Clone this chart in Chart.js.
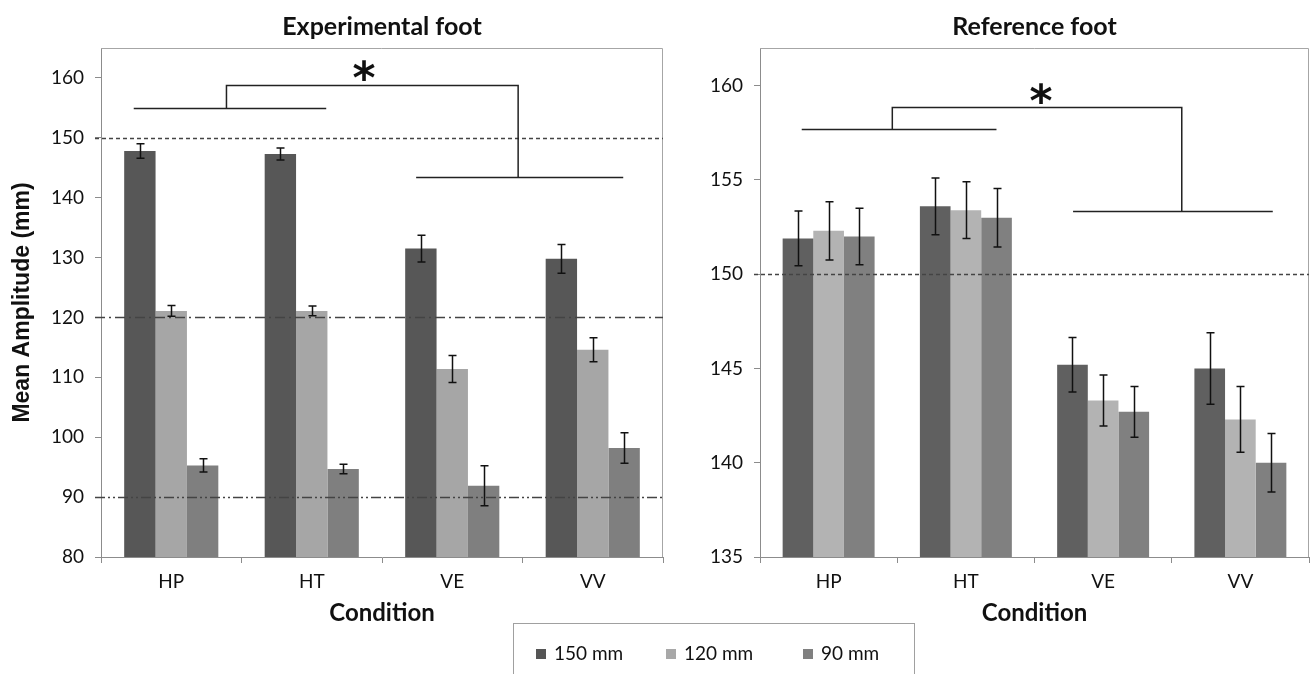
<!DOCTYPE html>
<html><head><meta charset="utf-8">
<script src="https://cdn.jsdelivr.net/npm/chart.js@4.4.1/dist/chart.umd.min.js"></script>
<style>
html,body{margin:0;padding:0;background:#fff;}
#wrap{position:relative;width:1310px;height:674px;overflow:hidden;background:#fff;}
canvas{position:absolute;top:0;}
#legend{position:absolute;left:513px;top:623px;width:402px;height:80px;border:1px solid #a0a0a0;box-sizing:border-box;font-family:Lato, sans-serif;font-size:19px;color:#111;}
.item{position:absolute;top:18px;height:22px;line-height:22px;white-space:nowrap;}
.sw{display:inline-block;width:10px;height:10px;margin-right:8px;vertical-align:middle;position:relative;top:-1px;}
</style></head>
<body><div id="wrap">
<canvas id="expChart" width="665" height="674" style="left:0"></canvas>
<canvas id="refChart" width="645" height="674" style="left:665px"></canvas>
<div id="legend"></div>
</div>
<script>
// ---- data ----
const categories = ['HP', 'HT', 'VE', 'VV'];
const seriesLabels = ['150 mm', '120 mm', '90 mm'];

const expMean150 = [147.8, 147.3, 131.5, 129.8];
const expMean120 = [121.1, 121.1, 111.4, 114.6];
const expMean90  = [95.3, 94.7, 91.9, 98.2];
const expErr150  = [1.2, 1.0, 2.25, 2.4];
const expErr120  = [0.9, 0.8, 2.25, 2.0];
const expErr90   = [1.1, 0.8, 3.35, 2.55];

const refMean150 = [151.9, 153.6, 145.2, 145.0];
const refMean120 = [152.3, 153.4, 143.3, 142.3];
const refMean90  = [152.0, 153.0, 142.7, 140.0];
const refErr150  = [1.45, 1.5, 1.45, 1.9];
const refErr120  = [1.55, 1.5, 1.35, 1.75];
const refErr90   = [1.5, 1.55, 1.35, 1.55];

const expYTicks = [80, 90, 100, 110, 120, 130, 140, 150, 160];
const refYTicks = [135, 140, 145, 150, 155, 160];
const expGuideValues = [150, 120, 90];
const refGuideValues = [150];

// ---- styles ----
const expColors = ['#575757', '#a6a6a6', '#7f7f7f'];
const refColors = ['#606060', '#b3b3b3', '#808080'];
const legendColors = ['#555555', '#a8a8a8', '#808080'];
const guideDashes = [[4, 3], [10, 4, 2, 4], [10, 3, 2, 3, 2, 3]];

const annotPlugin = {
  id: 'annot',
  afterDatasetsDraw(chart, args, opts) {
    const ctx = chart.ctx, xs = chart.scales.x, ys = chart.scales.y, ca = chart.chartArea;
    ctx.save();
    // plot frame (top / right)
    ctx.strokeStyle = '#a6a6a6'; ctx.lineWidth = 1;
    ctx.beginPath();
    ctx.moveTo(ca.left, Math.round(ca.top) + 0.5);
    ctx.lineTo(Math.round(ca.right) - 0.5, Math.round(ca.top) + 0.5);
    ctx.lineTo(Math.round(ca.right) - 0.5, ca.bottom);
    ctx.stroke();
    // guide lines
    opts.guides.forEach((g, k) => {
      const py = Math.round(ys.getPixelForValue(g)) + 0.5;
      ctx.setLineDash(opts.dashes[k]);
      ctx.strokeStyle = '#444'; ctx.lineWidth = 1.5;
      ctx.beginPath(); ctx.moveTo(ca.left - 6, py); ctx.lineTo(ca.right, py); ctx.stroke();
    });
    ctx.setLineDash([]);
    // error bars
    ctx.strokeStyle = '#111'; ctx.lineWidth = 1.5;
    chart.data.datasets.forEach((ds, i) => {
      const meta = chart.getDatasetMeta(i);
      meta.data.forEach((bar, j) => {
        const v = ds.data[j], e = ds.errors[j];
        const y1 = ys.getPixelForValue(v + e), y2 = ys.getPixelForValue(v - e);
        const x = Math.round(bar.x) + 0.5;
        ctx.beginPath();
        ctx.moveTo(x, y1); ctx.lineTo(x, y2);
        ctx.moveTo(x - 4, y1); ctx.lineTo(x + 4, y1);
        ctx.moveTo(x - 4, y2); ctx.lineTo(x + 4, y2);
        ctx.stroke();
      });
    });
    // significance bracket
    const b = opts.bracket;
    const px = i => xs.getPixelForValue(i);
    const py = v => Math.round(ys.getPixelForValue(v)) + 0.5;
    ctx.strokeStyle = '#222'; ctx.lineWidth = 1.5;
    ctx.beginPath();
    ctx.moveTo(px(b.leftSpan[0]), py(b.leftY)); ctx.lineTo(px(b.leftSpan[1]), py(b.leftY));
    ctx.moveTo(px(b.leftJoin), py(b.leftY)); ctx.lineTo(px(b.leftJoin), py(b.topY));
    ctx.lineTo(px(b.rightJoin), py(b.topY)); ctx.lineTo(px(b.rightJoin), py(b.rightY));
    ctx.moveTo(px(b.rightSpan[0]), py(b.rightY)); ctx.lineTo(px(b.rightSpan[1]), py(b.rightY));
    ctx.stroke();
    // star
    ctx.fillStyle = '#111';
    ctx.font = 'bold 44px "DejaVu Sans"';
    ctx.textAlign = 'center'; ctx.textBaseline = 'alphabetic';
    const m = ctx.measureText('*');
    const cy = ys.getPixelForValue(b.starY);
    ctx.fillText('*', px(b.starX), cy + (m.actualBoundingBoxAscent - m.actualBoundingBoxDescent) / 2);
    ctx.restore();
  }
};

function makeChart(id, titleText, means, errs, colors, yTicks, yMin, yMax, yWidth, padRight, showYTitle, guides, bracket) {
  return new Chart(document.getElementById(id), {
    type: 'bar',
    data: {
      labels: categories,
      datasets: seriesLabels.map((lab, i) => ({
        label: lab, data: means[i], errors: errs[i],
        backgroundColor: colors[i], borderWidth: 0,
        barPercentage: 1.0, categoryPercentage: 0.67
      }))
    },
    options: {
      responsive: false, animation: false, devicePixelRatio: 1,
      layout: { padding: { left: 0, right: padRight, top: 0, bottom: 0 } },
      plugins: {
        legend: { display: false }, tooltip: { enabled: false },
        title: { display: true, text: titleText, fullSize: false,
          font: { family: 'Lato', size: 25, weight: 'bold' }, color: '#111',
          padding: { top: 12, bottom: 6 } },
        annot: { guides: guides, dashes: guideDashes, bracket: bracket }
      },
      scales: {
        x: {
          afterFit: s => { s.height = 117; },
          grid: { drawOnChartArea: false, drawTicks: true, tickLength: 6, color: '#8c8c8c', offset: true },
          border: { color: '#8c8c8c', width: 1 },
          ticks: { font: { family: 'Lato', size: 19 }, color: '#111', padding: 7 },
          title: { display: true, text: 'Condition', font: { family: 'Lato', size: 24, weight: 'bold' },
            color: '#111', padding: { top: 0, bottom: 46.6 } }
        },
        y: {
          min: yMin, max: yMax,
          afterBuildTicks: s => { s.ticks = yTicks.map(v => ({ value: v })); },
          afterFit: s => { s.width = yWidth; },
          grid: { drawOnChartArea: false, drawTicks: true, tickLength: 6, color: '#8c8c8c' },
          border: { color: '#8c8c8c', width: 1 },
          ticks: { font: { family: 'Lato', size: 19 }, color: '#111', padding: 11 },
          title: { display: showYTitle, text: 'Mean Amplitude (mm)',
            font: { family: 'Liberation Sans', size: 23, weight: 'bold' }, color: '#111',
            padding: { top: 9, bottom: 0 } }
        }
      }
    },
    plugins: [annotPlugin]
  });
}

makeChart('expChart', 'Experimental foot',
  [expMean150, expMean120, expMean90], [expErr150, expErr120, expErr90],
  expColors, expYTicks, 80, 165, 101, 2, true, expGuideValues,
  { leftSpan: [-0.267, 1.103], leftY: 155, leftJoin: 0.393, topY: 158.84,
    rightJoin: 2.469, rightY: 143.47, rightSpan: [1.743, 3.217], starX: 1.372, starY: 161.3 });

makeChart('refChart', 'Reference foot',
  [refMean150, refMean120, refMean90], [refErr150, refErr120, refErr90],
  refColors, refYTicks, 135, 162, 95, 1, false, refGuideValues,
  { leftSpan: [-0.196, 1.223], leftY: 157.72, leftJoin: 0.464, topY: 158.87,
    rightJoin: 2.573, rightY: 153.37, rightSpan: [1.781, 3.236], starX: 1.548, starY: 159.57 });

// legend
const lg = document.getElementById('legend');
const itemLefts = [22, 152, 289];
seriesLabels.forEach((lab, i) => {
  const d = document.createElement('div');
  d.className = 'item'; d.style.left = itemLefts[i] + 'px';
  const sw = document.createElement('span'); sw.className = 'sw'; sw.style.background = legendColors[i];
  d.appendChild(sw); d.appendChild(document.createTextNode(lab));
  lg.appendChild(d);
});
</script>
</body></html>
